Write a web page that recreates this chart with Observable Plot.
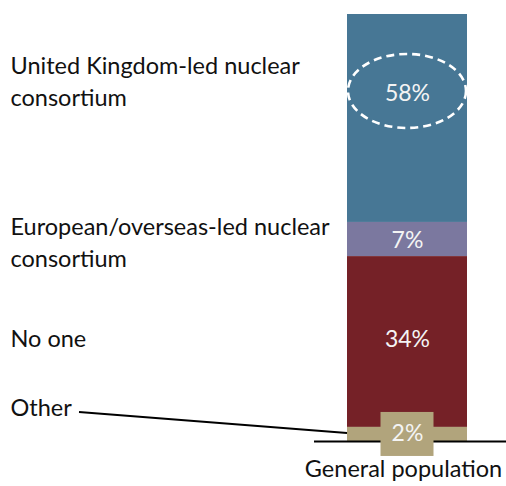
<!DOCTYPE html>
<html>
<head>
<meta charset="utf-8">
<script src="https://cdn.jsdelivr.net/npm/d3@7"></script>
<script src="https://cdn.jsdelivr.net/npm/@observablehq/plot@0.6"></script>
<style>
  html, body { margin: 0; padding: 0; background: #ffffff; }
  #chart svg { display: block; }
</style>
</head>
<body>
<div id="chart"></div>
<script>
// ---- data (top to bottom as shown) ----
const categories = [
  "United Kingdom-led nuclear consortium",
  "European/overseas-led nuclear consortium",
  "No one",
  "Other"
];
const categoryLines = [
  "United Kingdom-led nuclear\nconsortium",
  "European/overseas-led nuclear\nconsortium",
  "No one",
  "Other"
];
// segment heights as drawn in the picture (share of bar)
const barValues = [48.7, 8.0, 40.0, 3.3];
// printed value labels
const percentLabels = ["58%", "7%", "34%", "2%"];
const groups = ["General population"];

// ---- styles ----
const colors = ["#477795", "#7b789f", "#752127", "#b1a47c"];
const labelDy = [-39, 1, -6, -29];
const pctDy = [-25, 1, -2, -1];
const FONT = "Lato, 'Open Sans', sans-serif";
const LABEL_SIZE = 23.5;

// stack bottom-up (Other at the bottom)
let cum = 0;
const rows = categories.map((c, i) => ({i, cat: c, lines: categoryLines[i], value: barValues[i], label: percentLabels[i], group: groups[0]}))
  .reverse()
  .map(r => { const y1 = cum; cum += r.value; return {...r, y1, y2: cum, mid: (y1 + cum) / 2}; })
  .reverse();
const total = cum;

function bandInfo(scales) {
  const x = scales.x;
  let bw = x.bandwidth;
  bw = typeof bw === "function" ? bw() : (bw ?? 0);
  const x0 = x(groups[0]);
  return {x0, bw, cx: x0 + bw / 2};
}

const ukRow = rows.find(r => r.i === 0);
const otherRow = rows.find(r => r.i === 3);

const ellipseMark = (index, scales) => {
  const {cx} = bandInfo(scales);
  const cy = scales.y(ukRow.mid) + pctDy[0] - 2;
  const g = d3.create("svg:g");
  g.append("ellipse")
    .attr("cx", cx).attr("cy", cy).attr("rx", 59).attr("ry", 37)
    .attr("fill", "none").attr("stroke", "#ffffff")
    .attr("stroke-width", 2.6).attr("stroke-dasharray", "8,5");
  return g.node();
};

const boxMark = (index, scales) => {
  const {cx} = bandInfo(scales);
  const cy = scales.y(otherRow.mid);
  const w = 53, h = 44;
  const g = d3.create("svg:g");
  g.append("rect")
    .attr("x", cx - w / 2).attr("y", cy - h / 2).attr("width", w).attr("height", h)
    .attr("fill", colors[3]);
  return g.node();
};

const leaderMark = (index, scales) => {
  const {x0} = bandInfo(scales);
  const g = d3.create("svg:g");
  g.append("line")
    .attr("x1", 79).attr("y1", scales.y(otherRow.mid) + labelDy[3] + 7)
    .attr("x2", x0).attr("y2", scales.y(otherRow.mid) - 1)
    .attr("stroke", "#000").attr("stroke-width", 2);
  return g.node();
};

const plot = Plot.plot({
  width: 506,
  height: 486,
  marginTop: 14,
  marginBottom: 45,
  marginLeft: 0,
  marginRight: 0,
  style: {fontFamily: FONT, background: "#ffffff"},
  x: {domain: groups, range: [347, 467], padding: 0, axis: null},
  y: {domain: [0, total], axis: null},
  color: {domain: categories, range: colors},
  marks: [
    Plot.barY(rows, {x: "group", y1: "y1", y2: "y2", fill: "cat"}),
    Plot.ruleY([0], {insetLeft: 314, stroke: "#000", strokeWidth: 2}),
    ellipseMark,
    boxMark,
    leaderMark,
    ...rows.map(r => Plot.text([r], {
      x: "group", y: "mid", text: "label", dy: pctDy[r.i],
      fill: "#f4f4f4", fontSize: 23, fontFamily: FONT
    })),
    ...rows.map(r => Plot.text([r], {
      y: "mid", text: "lines", frameAnchor: "left", textAnchor: "start",
      dx: 10, dy: labelDy[r.i], lineHeight: 1.4,
      fill: "#111", fontSize: LABEL_SIZE, fontFamily: FONT
    })),
    Plot.text(groups, {x: d => d, frameAnchor: "bottom", dx: -4, dy: 35, text: d => d, fill: "#111", fontSize: LABEL_SIZE, fontFamily: FONT})
  ]
});
document.getElementById("chart").appendChild(plot);
</script>
</body>
</html>
